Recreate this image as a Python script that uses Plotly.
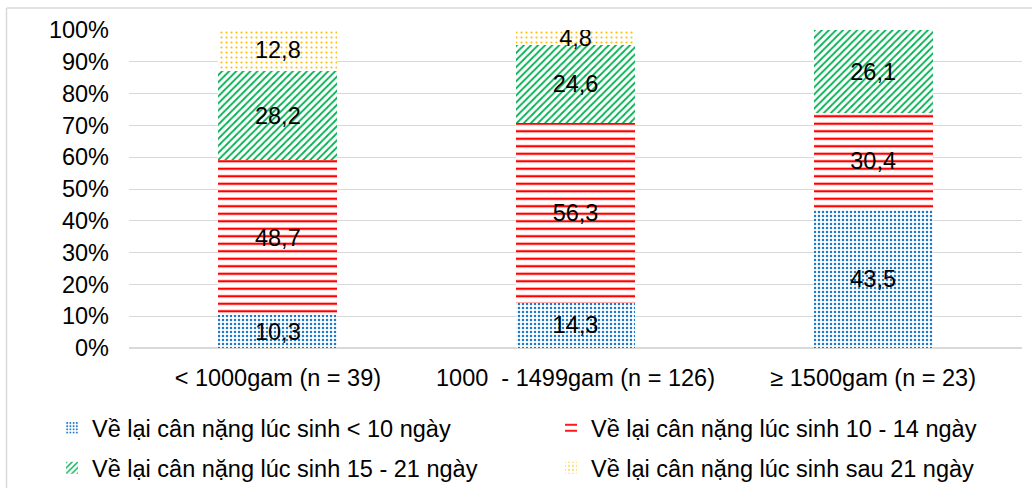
import plotly.graph_objects as go

categories = ["< 1000gam (n = 39)", "1000\u00a0 - 1499gam (n = 126)", "≥ 1500gam (n = 23)"]
series_names = [
    "Về lại cân nặng lúc sinh < 10 ngày",
    "Về lại cân nặng lúc sinh 10 - 14 ngày",
    "Về lại cân nặng lúc sinh 15 - 21 ngày",
    "Về lại cân nặng lúc sinh sau 21 ngày",
]
under_10 = [10.3, 14.3, 43.5]
days_10_14 = [48.7, 56.3, 30.4]
days_15_21 = [28.2, 24.6, 26.1]
after_21 = [12.8, 4.8, None]
y_ticks = [0, 10, 20, 30, 40, 50, 60, 70, 80, 90, 100]

W, H = 1032, 488
L, R, T, B = 129, 1022, 30, 348
FS = 23.5

def px_x(p):
    return (p - L) / (R - L)

def px_y(p):
    return (B - p) / (B - T)

styles = [
    dict(shape=".", fgcolor="#1F78C8", size=4, solidity=0.3),
    dict(shape="-", fgcolor="#FF0000", size=7.5, solidity=0.3),
    dict(shape="/", fgcolor="#00B050", size=5, solidity=0.35),
    dict(shape=".", fgcolor="#FFC000", size=5, solidity=0.15),
]
legend_ids = ["legend", "legend", "legend2", "legend2"]

def fmt(v):
    return "" if v is None else f"{v:.1f}".replace(".", ",")

fig = go.Figure()
for name, vals, st, lg in zip(series_names, [under_10, days_10_14, days_15_21, after_21], styles, legend_ids):
    fig.add_trace(go.Bar(
        x=categories, y=vals, name=name, legend=lg,
        text=[fmt(v) for v in vals],
        textposition="inside", insidetextanchor="middle", textangle=0,
        constraintext="none",
        textfont=dict(color="black", size=FS, family="Liberation Sans, Arial"),
        marker=dict(color="white", line=dict(width=0),
                    pattern=dict(shape=st["shape"], fgcolor=st["fgcolor"], bgcolor="white",
                                 size=st["size"], solidity=st["solidity"], fillmode="replace")),
        hoverinfo="skip",
    ))

legend_common = dict(orientation="h", xanchor="left", yanchor="top",
                     entrywidth=454, entrywidthmode="pixels", tracegroupgap=0,
                     traceorder="normal", font=dict(size=FS), itemwidth=30,
                     bgcolor="rgba(0,0,0,0)")

border = dict(color="#D9D9D9", width=1.5)
fig.update_layout(
    barmode="stack", bargap=0.6,
    width=W, height=H,
    margin=dict(l=L, r=W - R, t=T, b=H - B, autoexpand=False),
    paper_bgcolor="white", plot_bgcolor="white",
    font=dict(family="Liberation Sans, Arial", size=FS, color="black"),
    uniformtext=dict(mode="show", minsize=FS),
    showlegend=True,
    legend=dict(x=px_x(52), y=px_y(406), **legend_common),
    legend2=dict(x=px_x(52), y=px_y(446), **legend_common),
    shapes=[
        dict(type="line", xref="paper", yref="paper", x0=px_x(6.5), x1=px_x(1040),
             y0=px_y(8), y1=px_y(8), line=border, layer="below"),
        dict(type="line", xref="paper", yref="paper", x0=px_x(6.5), x1=px_x(6.5),
             y0=px_y(8), y1=px_y(500), line=border, layer="below"),
    ],
)
fig.update_yaxes(range=[0, 100], tickvals=y_ticks, ticktext=[f"{t}%" for t in y_ticks],
                 showgrid=True, gridcolor="#D9D9D9", gridwidth=1, zeroline=True,
                 zerolinecolor="#D9D9D9", showline=False, ticks="", ticklabelstandoff=19,
                 tickfont=dict(size=FS))
fig.update_xaxes(showline=False, ticks="", tickfont=dict(size=FS), ticklabelstandoff=13)

fig.write_html("out.html", config={"displayModeBar": False},
               post_script="document.body.style.margin='0';document.body.style.overflow='hidden';")
